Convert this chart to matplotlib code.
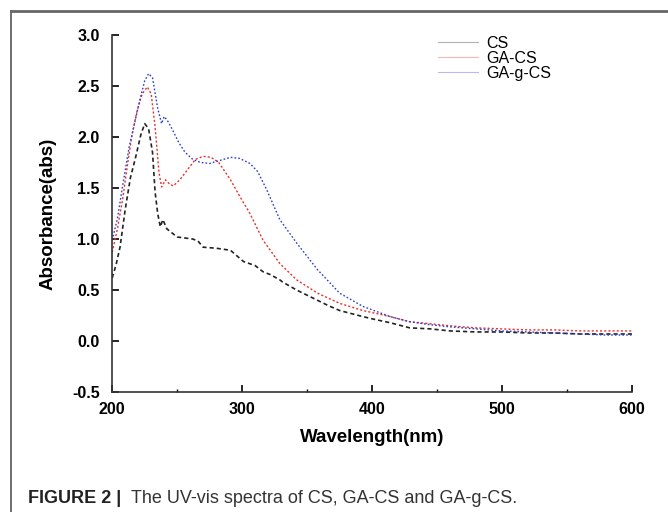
import matplotlib.pyplot as plt
from matplotlib.lines import Line2D

# wavelength (nm) / absorbance
wl_cs = [200, 203, 206, 210, 214, 218, 222, 225, 228, 231, 233, 235, 237, 239, 242, 246, 250, 256,
         262, 266, 270, 280, 291, 301, 310, 316, 322, 329, 331, 342, 350, 358, 366, 375, 384, 393,
         403, 414, 429, 445, 460, 480, 500, 520, 540, 560, 580, 600]
a_cs = [0.62, 0.75, 0.92, 1.29, 1.60, 1.80, 2.02, 2.13, 2.08, 1.85, 1.46, 1.25, 1.12, 1.19, 1.10, 1.06,
        1.02, 1.01, 1.00, 0.98, 0.92, 0.91, 0.89, 0.78, 0.74, 0.68, 0.65, 0.60, 0.58, 0.50, 0.45, 0.40,
        0.35, 0.30, 0.27, 0.24, 0.21, 0.18, 0.13, 0.12, 0.10, 0.09, 0.09, 0.08, 0.08, 0.07, 0.07, 0.07]

wl_ga = [200, 204, 208, 212, 215, 219, 223, 227, 230, 233, 236, 238, 241, 244, 247, 252, 258, 264,
         270, 276, 282, 291, 299, 306, 316, 329, 342, 358, 375, 393, 414, 429, 445, 460, 480, 500,
         520, 540, 560, 580, 600]
a_ga = [0.87, 1.10, 1.39, 1.75, 2.00, 2.25, 2.42, 2.49, 2.42, 2.10, 1.65, 1.51, 1.58, 1.54, 1.52, 1.58,
        1.68, 1.78, 1.81, 1.80, 1.75, 1.58, 1.40, 1.25, 0.99, 0.76, 0.60, 0.47, 0.37, 0.30, 0.24, 0.19,
        0.17, 0.15, 0.13, 0.12, 0.11, 0.11, 0.10, 0.10, 0.10]

wl_gag = [200, 204, 208, 213, 218, 222, 225, 228, 231, 235, 238, 240, 243, 246, 251, 256, 262, 268,
          275, 283, 291, 298, 306, 312, 319, 329, 342, 358, 375, 393, 414, 429, 445, 460, 480, 500,
          520, 540, 560, 580, 600]
a_gag = [0.99, 1.20, 1.52, 1.90, 2.18, 2.40, 2.55, 2.62, 2.58, 2.28, 2.13, 2.20, 2.15, 2.08, 1.95, 1.85,
         1.78, 1.75, 1.74, 1.77, 1.80, 1.79, 1.74, 1.66, 1.48, 1.19, 0.96, 0.70, 0.47, 0.34, 0.24, 0.19,
         0.16, 0.14, 0.12, 0.10, 0.09, 0.08, 0.07, 0.06, 0.06]

series = ["CS", "GA-CS", "GA-g-CS"]
colors = ["#222222", "#e8322f", "#2a3fd0"]

plt.rcParams['font.family'] = ['Liberation Sans', 'DejaVu Sans']
plt.rcParams['axes.unicode_minus'] = False

fig = plt.figure(figsize=(6.68, 5.12), dpi=100)
ax = fig.add_axes([0.168, 0.234, 0.778, 0.698])

ax.plot(wl_cs, a_cs, color=colors[0], lw=1.2, linestyle=(0, (2.5, 1.8)))
ax.plot(wl_ga, a_ga, color=colors[1], lw=1.0, linestyle=(0, (1.5, 1.5)))
ax.plot(wl_gag, a_gag, color=colors[2], lw=1.0, linestyle=(0, (1.2, 1.5)))

ax.set_xlim(200, 600)
ax.set_ylim(-0.5, 3.0)
ax.set_xticks([200, 300, 400, 500, 600])
ax.set_xticks([250, 350, 450, 550], minor=True)
ax.set_yticks([-0.5, 0.0, 0.5, 1.0, 1.5, 2.0, 2.5, 3.0])
ax.tick_params(direction='in', length=5, width=1.2, labelsize=11.5)
ax.tick_params(axis='y', pad=9)
ax.tick_params(axis='x', pad=7)
ax.tick_params(which='minor', direction='in', length=2, width=1)
for lab in ax.get_xticklabels() + ax.get_yticklabels():
    lab.set_fontweight('bold')
ax.spines['top'].set_visible(False)
ax.spines['right'].set_visible(False)
ax.spines['left'].set_color('#333333')
ax.spines['bottom'].set_color('#333333')
ax.spines['left'].set_linewidth(1.2)
ax.spines['bottom'].set_linewidth(1.2)
ax.set_xlabel("Wavelength(nm)", fontsize=13.5, fontweight='bold', labelpad=9)
ax.set_ylabel("Absorbance(abs)", fontsize=13.5, fontweight='bold', labelpad=11)

handles = [Line2D([], [], color=c, lw=0.8, alpha=0.35) for c in colors]
ax.legend(handles, series, loc='upper left', bbox_to_anchor=(0.627, 0.997), frameon=False,
          fontsize=11.5, handlelength=2.5, labelspacing=0.0, handletextpad=0.5,
          borderpad=0, borderaxespad=0)

# page frame and caption
fig.add_artist(Line2D([0.016, 0.016], [0.0, 0.979], color='#555555', lw=1.2))
fig.add_artist(Line2D([0.016, 1.0], [0.979, 0.979], color='#666666', lw=2))
fig.text(0.042, 0.018, "FIGURE 2 |", fontsize=13, fontweight='bold', color='#222222')
fig.text(0.196, 0.018, "The UV-vis spectra of CS, GA-CS and GA-g-CS.", fontsize=13,
         color='#333333')

fig.savefig("out.png", dpi=100)
